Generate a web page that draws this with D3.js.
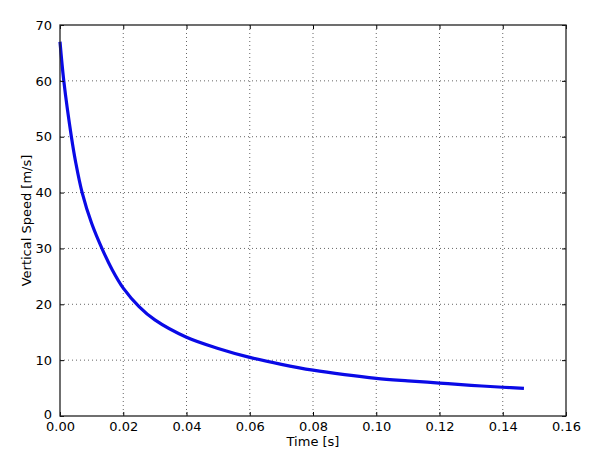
<!DOCTYPE html>
<html><head><meta charset="utf-8">
<script src="https://cdn.jsdelivr.net/npm/d3@7"></script>
<style>body{margin:0;background:#fff;}svg{display:block;font-family:"DejaVu Sans",sans-serif;}</style>
</head><body>
<svg id="c" width="600" height="457"></svg>
<script>
const timeValues = [0, 0.0012, 0.0036, 0.005, 0.007, 0.01, 0.0135, 0.0165, 0.02, 0.025, 0.03, 0.04, 0.05, 0.06, 0.07, 0.08, 0.09, 0.10, 0.11, 0.12, 0.13, 0.14, 0.1467];
const speedValues = [67.0, 60, 50, 45.3, 40, 34.5, 29.7, 26.2, 22.9, 19.6, 17.2, 14.1, 12.1, 10.5, 9.25, 8.2, 7.4, 6.75, 6.3, 5.9, 5.5, 5.15, 4.95];
const xTicks = [0, 0.02, 0.04, 0.06, 0.08, 0.10, 0.12, 0.14, 0.16];
const yTicks = [0, 10, 20, 30, 40, 50, 60, 70];

const svg = d3.select("#c");
const L = 60, R = 566, T = 25, B = 416;
const x = d3.scaleLinear().domain([0, 0.16]).range([L, R]);
const y = d3.scaleLinear().domain([0, 70]).range([B, T]);

// grid
const g = svg.append("g");
g.selectAll(".gx").data(xTicks.slice(1, -1)).enter().append("line")
  .attr("x1", d => x(d)).attr("x2", d => x(d)).attr("y1", T).attr("y2", B)
  .attr("stroke", "#666").attr("stroke-width", 1).attr("stroke-dasharray", "1,3");
g.selectAll(".gy").data(yTicks.slice(1, -1)).enter().append("line")
  .attr("x1", L).attr("x2", R).attr("y1", d => y(d)).attr("y2", d => y(d))
  .attr("stroke", "#666").attr("stroke-width", 1).attr("stroke-dasharray", "1,3");

// line
const data = timeValues.map((t, i) => [t, speedValues[i]]);
svg.append("path").datum(data)
  .attr("fill", "none").attr("stroke", "#0a0ae6").attr("stroke-width", 3.2)
  .attr("stroke-linejoin", "round").attr("stroke-linecap", "butt")
  .attr("d", d3.line().x(d => x(d[0])).y(d => y(d[1])).curve(d3.curveCatmullRom.alpha(0.5)));

// axes (ticks inward)
const fmtX = d3.format(".2f");
const axB = d3.axisBottom(x).tickValues(xTicks).tickFormat(fmtX).tickSizeInner(-4).tickSizeOuter(0).tickPadding(6);
const axT = d3.axisTop(x).tickValues(xTicks).tickFormat("").tickSizeInner(-4).tickSizeOuter(0);
const axL = d3.axisLeft(y).tickValues(yTicks).tickFormat(d3.format("d")).tickSizeInner(-4).tickSizeOuter(0).tickPadding(8);
const axR = d3.axisRight(y).tickValues(yTicks).tickFormat("").tickSizeInner(-4).tickSizeOuter(0);
function style(sel){
  sel.select(".domain").remove();
  sel.selectAll(".tick line").attr("stroke", "#000").attr("stroke-width", 1);
  sel.selectAll(".tick text").attr("fill", "#000").style("font-size", "13px").style("font-family", "DejaVu Sans");
}
svg.append("g").attr("transform", `translate(0,${B})`).call(axB).call(style);
svg.append("g").attr("transform", `translate(0,${T})`).call(axT).call(style);
const gl = svg.append("g").attr("transform", `translate(${L},0)`).call(axL).call(style);
gl.selectAll(".tick text").filter(d => d === 0).attr("dy", "0.2em");
svg.append("g").attr("transform", `translate(${R},0)`).call(axR).call(style);

// frame
svg.append("rect").attr("x", L).attr("y", T).attr("width", R - L).attr("height", B - T)
  .attr("fill", "none").attr("stroke", "#222").attr("stroke-width", 1.3);

// labels
svg.append("text").attr("x", (L + R) / 2).attr("y", 446).attr("text-anchor", "middle")
  .style("font-size", "13px").text("Time [s]");
svg.append("text").attr("transform", `translate(31,${(T + B) / 2}) rotate(-90)`).attr("text-anchor", "middle")
  .style("font-size", "13px").text("Vertical Speed [m/s]");
</script>
</body></html>
